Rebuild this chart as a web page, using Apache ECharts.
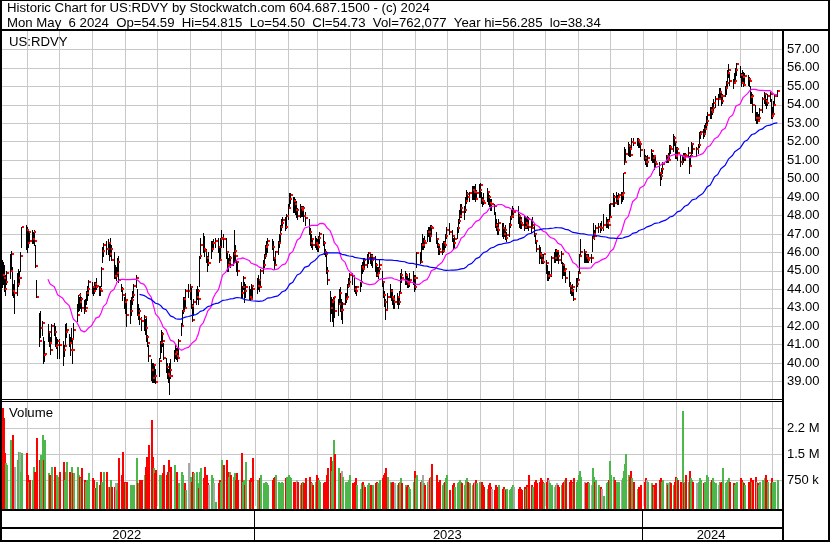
<!DOCTYPE html>
<html><head><meta charset="utf-8">
<script src="https://cdn.jsdelivr.net/npm/echarts@6/dist/echarts.min.js"></script>
<style>html,body{margin:0;padding:0;background:#fff}#c{width:830px;height:543px}</style>
</head><body><div id="c"></div>
<script>
// ---------------- DATA ----------------
const months = ['2022-05','2022-06','2022-07','2022-08','2022-09','2022-10','2022-11','2022-12',
 '2023-01','2023-02','2023-03','2023-04','2023-05','2023-06','2023-07','2023-08','2023-09','2023-10','2023-11','2023-12',
 '2024-01','2024-02','2024-03','2024-04','2024-05'];
const monthDays = [
 [9,10,11,12,13,16,17,18,19,20,23,24,25,26,27,31],
 [1,2,3,6,7,8,9,10,13,14,15,16,17,21,22,23,24,27,28,29,30],
 [1,5,6,7,8,11,12,13,14,15,18,19,20,21,22,25,26,27,28,29],
 [1,2,3,4,5,8,9,10,11,12,15,16,17,18,19,22,23,24,25,26,29,30,31],
 [1,2,6,7,8,9,12,13,14,15,16,19,20,21,22,23,26,27,28,29,30],
 [3,4,5,6,7,10,11,12,13,14,17,18,19,20,21,24,25,26,27,28,31],
 [1,2,3,4,7,8,9,10,11,14,15,16,17,18,21,22,23,25,28,29,30],
 [1,2,5,6,7,8,9,12,13,14,15,16,19,20,21,22,23,27,28,29,30],
 [3,4,5,6,9,10,11,12,13,17,18,19,20,23,24,25,26,27,30,31],
 [1,2,3,6,7,8,9,10,13,14,15,16,17,21,22,23,24,27,28],
 [1,2,3,6,7,8,9,10,13,14,15,16,17,20,21,22,23,24,27,28,29,30,31],
 [3,4,5,6,10,11,12,13,14,17,18,19,20,21,24,25,26,27,28],
 [1,2,3,4,5,8,9,10,11,12,15,16,17,18,19,22,23,24,25,26,30,31],
 [1,2,5,6,7,8,9,12,13,14,15,16,20,21,22,23,26,27,28,29,30],
 [3,5,6,7,10,11,12,13,14,17,18,19,20,21,24,25,26,27,28,31],
 [1,2,3,4,7,8,9,10,11,14,15,16,17,18,21,22,23,24,25,28,29,30,31],
 [1,5,6,7,8,11,12,13,14,15,18,19,20,21,22,25,26,27,28,29],
 [2,3,4,5,6,9,10,11,12,13,16,17,18,19,20,23,24,25,26,27,30,31],
 [1,2,3,6,7,8,9,10,13,14,15,16,17,20,21,22,24,27,28,29,30],
 [1,4,5,6,7,8,11,12,13,14,15,18,19,20,21,22,26,27,28,29],
 [2,3,4,5,8,9,10,11,12,16,17,18,19,22,23,24,25,26,29,30,31],
 [1,2,5,6,7,8,9,12,13,14,15,16,20,21,22,23,26,27,28,29],
 [1,4,5,6,7,8,11,12,13,14,15,18,19,20,21,22,25,26,27,28],
 [1,2,3,4,5,8,9,10,11,12,15,16,17,18,19,22,23,24,25,26,29,30],
 [1,2,3,6]
];
const high = [
 45.6,45.5,45.3,44.8,45.0,45.9,46.1,45.2,44.3,44.5,44.9,45.1,45.0,46.0,47.4,47.5,
 47.4,47.2,47.1,47.2,47.1,47.2,46.4,44.5,42.7,42.8,42.3,41.4,41.2,42.1,41.7,41.4,42.1,42.2,42.0,41.4,41.3,
 41.3,41.2,41.0,42.1,42.2,41.6,41.4,41.9,41.3,42.2,43.2,43.7,43.6,43.8,43.6,43.4,43.5,43.9,44.2,44.5,
 44.4,44.2,44.4,44.4,44.6,44.2,44.2,45.2,46.3,46.5,46.6,46.7,46.5,46.8,46.4,46.0,45.3,45.2,45.7,45.8,44.3,44.1,43.6,
 43.8,43.5,43.4,43.6,43.9,44.3,44.8,44.0,43.2,43.0,42.5,42.6,42.4,42.5,41.5,41.0,40.2,40.0,40.0,39.9,39.7,
 40.3,41.2,41.8,41.7,41.1,40.3,40.0,39.7,40.0,40.2,40.7,41.0,40.8,40.8,41.3,42.2,42.9,43.6,43.6,44.0,44.3,
 44.3,44.2,43.2,43.5,44.0,44.2,44.0,45.8,46.8,47.05,46.9,46.2,45.8,46.0,46.6,46.6,46.7,46.8,46.8,46.3,46.8,
 47.2,47.0,46.8,46.0,45.7,45.9,45.8,46.0,47.2,46.4,45.6,45.5,44.4,44.2,44.7,44.4,44.3,44.2,44.0,44.3,44.2,
 44.6,44.8,44.5,45.1,45.6,45.9,46.4,46.6,46.8,46.7,46.6,45.7,46.1,46.6,47.0,47.5,47.8,47.9,47.9,48.1,
 48.6,49.24,49.2,49.0,49.0,48.9,48.8,48.4,48.6,48.5,48.5,48.5,48.2,47.8,47.3,47.0,46.8,46.9,46.8,
 46.7,46.9,47.1,47.0,46.6,46.2,46.0,45.2,43.9,43.6,43.5,43.6,43.6,43.5,44.0,44.1,43.5,43.3,43.8,43.8,44.3,44.6,44.9,
 44.9,44.8,44.2,44.2,44.4,45.3,45.5,45.7,45.7,45.9,46.0,46.0,45.9,45.9,45.8,45.4,45.2,45.2,45.6,
 45.0,44.4,43.9,43.5,43.8,44.3,44.0,44.0,43.6,43.7,43.8,43.6,43.9,44.9,45.1,45.0,44.9,44.7,44.6,44.9,45.0,44.8,
 44.8,46.0,46.0,46.5,47.0,46.8,46.9,47.2,47.4,47.4,47.5,47.5,47.1,46.8,46.5,46.4,46.5,46.6,46.6,47.0,47.4,
 47.6,47.2,46.8,46.9,47.4,47.8,48.3,48.6,48.6,48.5,49.0,49.4,49.3,49.3,49.6,49.6,49.6,49.7,49.4,49.7,
 49.76,49.3,49.0,49.2,49.5,49.3,49.1,48.9,48.9,48.6,48.2,47.8,47.6,47.8,47.6,47.6,47.4,47.5,47.1,47.6,48.0,48.3,48.5,
 48.4,48.5,48.1,47.9,47.9,48.0,48.0,47.9,48.0,47.9,47.8,47.9,47.5,47.0,46.6,46.4,46.3,46.0,45.9,45.9,
 45.6,45.3,45.0,45.0,45.8,46.0,46.2,46.2,46.1,46.1,46.1,45.5,45.4,45.3,45.0,45.0,44.4,44.2,44.3,44.0,44.6,44.6,
 45.0,45.9,46.7,46.2,46.0,45.9,45.9,45.9,45.9,46.9,47.6,47.2,47.5,47.6,47.6,47.7,48.1,47.9,47.8,47.8,48.6,
 48.7,49.2,49.1,49.3,49.1,49.2,49.3,49.3,50.3,51.7,51.6,52.0,51.9,51.8,52.2,52.2,52.2,52.2,52.1,51.9,
 51.6,51.3,51.2,51.3,51.6,51.4,51.3,51.2,51.2,50.9,50.3,50.6,50.9,51.3,51.3,51.4,51.8,51.8,52.4,52.3,52.0,
 51.7,51.7,51.3,51.3,51.4,51.4,51.4,51.7,51.2,51.3,52.0,51.9,51.7,51.9,52.5,52.6,52.7,52.9,53.0,53.4,
 53.6,53.9,53.9,54.1,54.3,54.5,54.6,54.9,54.9,54.7,54.6,55.0,55.3,55.9,56.2,55.8,55.4,55.7,56.0,56.285,
 56.1,55.7,55.9,55.8,55.7,55.6,55.5,55.0,54.7,54.6,54.0,53.6,53.6,53.5,53.8,54.4,54.7,54.6,54.3,54.6,54.7,54.3,
 53.9,54.2,54.6,54.815
];
const low = [
 44.1,44.3,43.9,43.7,44.3,44.6,45.0,43.7,43.6,42.7,43.7,44.2,44.3,45.0,46.3,46.2,
 46.0,46.3,46.5,46.5,46.5,46.4,45.2,43.6,40.9,41.4,41.5,40.0,40.1,41.2,40.9,40.5,41.1,41.5,40.9,40.8,40.3,
 40.3,39.9,40.4,40.9,41.4,40.9,40.45,41.1,40.0,41.3,42.3,42.8,42.9,43.0,42.8,42.7,42.9,43.2,43.4,43.7,
 43.8,43.7,43.8,43.97,44.0,43.7,43.7,44.2,45.5,45.8,45.9,45.9,45.6,45.8,45.6,44.6,44.6,44.5,44.8,44.4,43.9,43.4,43.0,
 42.7,42.0,42.2,42.6,43.2,43.6,44.1,42.6,42.4,42.1,41.8,41.8,41.6,41.2,40.9,40.1,39.1,39.0,39.0,39.0,38.9,
 39.3,40.3,40.6,40.9,40.2,39.5,39.2,39.0,38.34,39.2,40.1,40.3,40.2,40.1,40.3,41.5,42.0,42.7,42.8,43.0,43.6,
 43.5,43.0,42.3,42.6,43.2,43.5,43.2,44.2,45.7,46.0,45.8,45.5,45.0,45.3,45.7,46.1,46.2,46.3,46.0,45.5,45.6,
 46.3,46.3,45.7,45.0,45.0,45.3,45.2,45.3,45.5,45.5,45.0,44.8,43.6,43.6,44.0,43.3,43.6,43.5,43.4,43.6,43.6,
 43.8,44.0,43.9,44.2,44.9,45.2,45.7,45.8,46.0,46.2,45.6,45.1,45.3,45.9,46.3,46.6,47.2,47.4,47.2,47.3,
 47.8,48.4,48.7,48.2,48.2,48.1,47.9,47.8,47.9,48.0,48.0,47.7,47.5,47.0,46.4,46.3,46.2,46.3,46.2,
 46.1,46.1,46.5,46.4,45.9,45.8,44.9,44.3,42.3,42.7,42.3,42.0,42.5,42.6,43.3,42.8,42.4,42.2,43.2,43.3,43.7,44.1,44.2,
 44.3,43.9,43.8,43.7,43.9,44.2,44.9,45.0,45.1,45.2,45.4,45.4,45.3,45.2,45.0,44.7,44.7,44.6,45.0,
 44.2,43.6,43.1,42.4,43.0,43.6,43.4,43.2,43.0,43.0,43.2,43.0,43.2,43.9,44.4,44.3,44.3,44.1,44.1,44.2,44.3,43.9,
 44.0,45.2,45.4,45.6,46.2,46.2,46.3,46.6,46.9,46.6,46.6,47.0,46.5,46.3,45.9,45.9,45.9,46.0,46.1,46.3,46.8,
 47.0,46.6,46.2,46.3,46.8,47.1,47.6,47.9,47.9,47.8,48.2,48.7,48.8,48.8,48.9,48.9,48.9,48.8,48.9,49.0,
 49.0,48.7,48.5,48.6,48.8,48.6,48.5,48.3,48.3,48.1,47.4,47.2,47.0,47.0,46.9,46.8,46.9,46.7,46.6,46.9,47.4,47.8,47.9,
 47.9,47.6,47.4,47.3,47.3,47.2,47.3,47.3,47.3,47.2,47.1,47.3,46.9,46.5,46.1,45.4,45.7,45.4,45.4,45.4,
 44.9,44.5,44.5,44.6,44.7,45.5,45.5,45.6,45.6,45.4,45.4,44.6,44.8,44.8,44.4,44.2,43.8,43.7,43.7,43.4,43.9,44.2,
 44.5,45.0,45.8,45.5,45.5,45.5,45.5,45.5,45.5,46.1,46.8,46.7,46.9,47.1,47.1,47.2,47.2,47.4,47.4,47.3,47.8,
 47.9,48.5,48.5,48.7,48.6,48.6,48.7,48.8,48.9,50.8,51.0,51.3,51.2,51.2,51.6,51.8,51.8,51.7,51.7,51.2,
 51.0,50.8,50.7,50.7,51.0,50.9,50.9,50.5,50.7,50.2,49.66,50.0,50.3,50.9,50.9,50.9,51.1,51.4,51.5,51.8,51.1,
 51.1,51.0,50.7,50.8,50.9,51.0,51.0,51.2,50.3,50.7,51.3,51.4,51.2,51.4,51.7,52.2,52.2,52.3,52.4,52.7,
 53.0,53.3,53.3,53.5,53.7,53.9,54.0,54.3,54.3,54.0,54.1,54.5,54.6,55.0,55.5,55.1,54.9,55.2,55.4,55.6,
 55.5,55.0,55.2,55.0,55.2,55.1,55.0,54.1,54.1,53.6,53.2,53.0,53.0,53.1,53.1,53.6,54.1,54.0,53.8,54.0,54.2,53.3,
 53.3,53.6,54.1,54.50
];
const close = [
 44.8,44.6,44.0,44.4,44.9,45.0,45.9,43.9,43.8,43.8,44.3,44.6,44.6,45.8,47.35,47.2,
 46.5,47.1,46.6,46.7,47.1,46.6,45.24,43.6,41.2,41.9,42.2,40.45,40.5,41.7,41.1,40.7,42.0,41.7,40.9,41.0,41.2,
 41.0,40.7,40.9,41.7,41.8,41.1,40.7,41.3,40.7,41.8,42.6,43.7,43.3,43.5,43.0,42.8,43.0,43.8,44.0,44.4,
 44.1,43.9,44.3,44.1,44.2,44.0,43.9,45.1,46.05,46.4,46.2,46.5,45.9,46.2,45.6,44.7,44.7,44.9,45.5,44.5,44.0,43.7,43.3,
 43.4,42.6,42.8,43.4,43.7,44.2,44.6,42.6,42.8,42.4,42.3,42.5,41.9,41.4,41.1,40.4,39.6,39.2,39.9,39.3,38.95,
 40.1,41.1,41.6,41.2,40.3,39.8,39.4,39.3,39.6,39.3,40.5,40.6,40.4,40.3,41.2,42.0,42.8,43.5,43.0,43.9,43.9,
 44.1,43.1,42.35,43.3,43.6,43.9,43.5,45.8,46.4,46.2,46.1,45.7,45.4,45.4,46.2,46.5,46.5,46.6,46.3,45.6,46.7,
 46.8,46.7,46.0,45.3,45.5,45.7,45.3,45.9,46.1,45.8,45.5,45.0,43.8,44.1,44.6,43.9,44.1,43.6,43.5,44.2,44.0,
 44.2,44.5,44.1,45.0,45.3,45.8,46.3,46.4,46.6,46.3,45.7,45.3,46.0,46.5,47.0,47.35,47.6,47.76,47.4,48.0,
 48.4,48.9,49.1,48.8,48.6,48.3,48.3,48.0,48.4,48.3,48.4,48.0,47.85,47.1,46.5,46.7,46.4,46.5,46.4,
 46.3,46.8,47.0,46.5,46.0,45.9,45.0,44.5,43.0,43.3,43.4,43.6,42.8,43.2,43.8,42.9,42.9,43.2,43.5,43.6,44.2,44.4,44.8,
 44.7,44.0,43.9,44.1,44.37,45.2,45.1,45.6,45.3,45.7,45.95,45.8,45.6,45.7,45.3,44.8,44.9,45.1,45.3,
 44.4,43.7,43.3,42.9,43.6,43.9,43.6,43.5,43.3,43.3,43.6,43.3,43.8,44.8,44.6,44.8,44.4,44.3,44.4,44.5,44.6,44.1,
 44.6,45.95,45.5,46.4,46.4,46.6,46.5,47.1,47.1,46.9,47.35,47.3,46.7,46.4,46.2,46.0,46.1,46.5,46.4,46.9,47.2,
 47.1,46.9,46.5,46.7,47.3,47.7,48.0,48.4,48.2,48.3,48.8,49.15,49.0,49.2,49.4,49.3,49.3,48.9,49.2,49.4,
 49.66,48.85,48.8,48.7,49.3,49.0,48.7,48.6,48.6,48.5,47.5,47.3,47.2,47.6,47.3,47.0,47.2,46.8,46.95,47.5,47.9,48.0,48.2,
 48.2,48.0,47.76,47.6,47.5,47.4,47.6,47.5,47.8,47.4,47.3,47.5,47.0,46.6,46.2,45.9,45.8,45.6,45.5,45.9,
 45.4,44.7,44.7,44.8,45.7,45.7,46.1,46.1,45.8,45.6,45.9,45.3,45.0,45.1,44.6,44.2,43.97,43.9,44.1,43.5,44.3,44.5,
 44.9,45.8,46.0,46.0,45.8,45.7,45.6,45.7,45.7,46.8,47.0,46.9,47.3,47.4,47.3,47.3,47.5,47.6,47.7,47.5,47.9,
 48.6,49.0,48.7,48.9,49.0,49.1,49.1,49.2,50.3,50.9,51.34,51.74,51.6,51.3,52.0,51.95,52.1,52.0,51.9,51.55,
 51.1,50.9,50.9,51.1,51.5,51.1,51.2,50.9,50.8,50.3,50.15,50.5,50.8,51.2,51.0,51.0,51.7,51.6,52.2,52.0,51.2,
 51.6,51.4,50.9,51.2,51.1,51.3,51.2,51.4,50.7,51.2,51.9,51.6,51.6,51.8,52.4,52.5,52.4,52.7,52.9,53.1,
 53.46,53.7,53.6,53.8,54.1,54.3,54.3,54.7,54.5,54.2,54.5,54.9,55.2,55.7,55.9,55.3,55.2,55.3,55.9,56.2,
 55.6,55.2,55.5,55.1,55.57,55.4,55.3,54.4,54.5,54.0,53.3,53.3,53.1,53.3,53.7,54.3,54.6,54.2,54.1,54.5,54.6,53.4,
 53.5,54.0,54.5,54.73
];
const volumeThousands = [
 2820,2530,1520,1230,1180,1900,1520,2050,990,1135,1330,1570,1570,990,1520,1520,
 890,700,750,750,1135,990,800,1950,1330,1470,2050,1330,1900,940,890,800,1135,1135,890,890,850,
 990,1280,750,990,1280,990,990,1135,940,940,1135,890,850,800,1090,750,700,750,700,940,
 800,750,510,510,700,610,990,700,610,990,990,560,560,750,560,560,650,460,650,1375,890,1570,700,
 650,700,620,610,460,610,1375,650,650,750,750,890,1135,1420,1420,1760,2480,1420,1090,940,1040,
 890,800,890,940,1180,890,990,1330,990,1135,1180,990,990,510,650,990,890,650,650,460,1230,
 850,700,990,940,990,650,510,990,1090,800,1135,890,650,610,890,800,650,125,650,750,700,
 1330,1180,1330,990,850,990,890,850,940,750,940,750,1520,700,750,610,1280,750,800,700,1375,
 750,700,800,900,650,600,700,650,600,750,800,850,900,700,650,600,700,650,800,850,
 900,850,800,700,650,700,750,700,600,650,700,650,800,850,700,650,600,700,900,
 800,750,700,650,700,650,900,1100,1400,1000,1300,1900,1500,1100,900,950,1000,850,700,650,700,750,900,
 650,700,800,600,500,650,700,600,550,600,650,600,550,600,650,700,650,600,750,
 800,900,950,1100,850,700,650,700,600,650,600,650,700,800,650,600,550,600,550,500,700,1000,
 800,900,700,750,900,650,600,700,750,800,850,1200,900,700,650,750,600,650,700,800,900,
 450,600,650,550,650,700,750,700,650,600,750,800,700,650,600,650,700,750,650,700,
 650,700,600,550,500,600,650,550,500,450,600,550,500,600,500,550,500,450,500,450,500,550,600,
 550,500,550,500,450,550,500,600,550,900,600,550,700,750,650,700,800,750,700,650,
 700,800,750,650,600,550,600,650,600,550,600,650,700,750,800,700,750,700,650,800,700,750,
 900,1000,850,700,650,600,700,650,600,1100,850,700,750,600,550,500,300,650,700,750,1300,
 900,850,750,700,650,700,750,800,1000,1200,1500,900,850,1000,800,700,500,550,500,600,
 700,800,750,700,650,600,550,600,650,750,800,700,750,650,600,650,700,650,600,700,850,
 800,750,700,2750,650,700,900,700,1000,800,750,700,650,700,800,750,650,700,650,900,
 850,700,750,800,700,650,600,700,650,700,1100,650,700,750,800,700,650,600,650,700,
 800,750,700,650,600,700,650,800,700,750,850,700,650,600,700,750,800,900,750,700,650,800,
 700,650,680,762.077
];
const priceRange = [38, 58];
const volTicks = [750000, 1500000, 2250000];
const volTickLabels = ['750 k', '1.5 M', '2.2 M'];
const years = ['2022', '2023', '2024'];
const maPeriods = [30, 90];
const headerLine1 = 'Historic Chart for US:RDVY by Stockwatch.com 604.687.1500 - (c) 2024';
const headerLine2 = 'Mon May  6 2024  Op=54.59  Hi=54.815  Lo=54.50  Cl=54.73  Vol=762,077  Year hi=56.285  lo=38.34';
const symbolLabel = 'US:RDVY';

// ---------------- BUILD ----------------
const DAY = 86400000;
const dates = [];
months.forEach((m, i) => {
  const [y, mo] = m.split('-').map(Number);
  monthDays[i].forEach(d => dates.push(Date.UTC(y, mo - 1, d)));
});
const monthStarts = months.slice(1).map(m => { const [y, mo] = m.split('-').map(Number); return Date.UTC(y, mo - 1, 1); });
const yearStarts = years.slice(1).map(y => Date.UTC(+y, 0, 1));
const T0 = Date.UTC(2022, 4, 8);
const PXD = 1.0649, OFF = 1.06;
const xMin = T0 + (2 - OFF) / PXD * DAY;
const xMax = T0 + (782 - OFF) / PXD * DAY;

const ohlc = dates.map((t, i) => [t, high[i], low[i], close[i]]);
const volData = dates.map((t, i) => [t, volumeThousands[i] * 1000]);
const volColors = close.map((c, i) => i === 0 ? '#ff0000' : (c > close[i-1] ? '#4cb84c' : (c < close[i-1] ? '#ff0000' : '#a8a8a8')));
function sma(n) {
  const out = []; let s = 0;
  for (let i = 0; i < close.length; i++) {
    s += close[i]; if (i >= n) s -= close[i - n];
    if (i >= n - 1) out.push([dates[i], +(s / n).toFixed(3)]);
  }
  return out;
}
const yearSegs = [];
const bounds = [xMin].concat(yearStarts, [xMax]);
for (let i = 0; i < years.length; i++) yearSegs.push([bounds[i], bounds[i+1], i]);

const FONT = "'Liberation Sans', Arial, sans-serif";
const GRID = '#c8c8c8';

function monthLineRender(params, api) {
  const x = Math.round(api.coord([api.value(0), 0])[0]) + 0.5;
  const cs = params.coordSys;
  return { type: 'line', shape: { x1: x, y1: cs.y, x2: x, y2: cs.y + cs.height },
    style: { stroke: GRID, lineWidth: 1 }, silent: true };
}

const chart = echarts.init(document.getElementById('c'), null, { renderer: 'canvas' });
chart.setOption({
  animation: false,
  backgroundColor: '#fff',
  grid: [
    { left: 2, top: 31, width: 780, height: 369 },
    { left: 2, top: 402, width: 780, height: 104 },
    { left: 2, top: 511, width: 780, height: 29 }
  ],
  xAxis: [0, 1, 2].map(g => ({ type: 'time', gridIndex: g, min: xMin, max: xMax, show: false })),
  yAxis: [
    { type: 'value', gridIndex: 0, position: 'right', min: priceRange[0], max: priceRange[1], interval: 1,
      axisLine: { show: false }, axisTick: { show: false },
      axisLabel: { margin: 5, color: '#000', fontSize: 13, fontFamily: FONT, showMinLabel: false, showMaxLabel: false,
        formatter: v => v.toFixed(2) },
      splitLine: { show: true, showMinLine: false, showMaxLine: false, lineStyle: { color: GRID, width: 1 } } },
    { type: 'value', gridIndex: 1, position: 'right', min: 0, max: 3000000, interval: 750000,
      axisLine: { show: false }, axisTick: { show: false },
      axisLabel: { margin: 5, color: '#000', fontSize: 13, fontFamily: FONT,
        formatter: v => { const k = volTicks.indexOf(v); return k >= 0 ? volTickLabels[k] : ''; } },
      splitLine: { show: true, showMinLine: false, showMaxLine: false, lineStyle: { color: GRID, width: 1 } } },
    { type: 'value', gridIndex: 2, min: 0, max: 1, show: false }
  ],
  series: [
    { type: 'custom', name: 'monthsP', xAxisIndex: 0, yAxisIndex: 0, data: monthStarts.map(t => [t]), z: 1,
      renderItem: monthLineRender, clip: false, silent: true },
    { type: 'custom', name: 'monthsV', xAxisIndex: 1, yAxisIndex: 1, data: monthStarts.map(t => [t]), z: 1,
      renderItem: monthLineRender, clip: false, silent: true },
    { type: 'custom', name: 'bars', xAxisIndex: 0, yAxisIndex: 0, data: ohlc, z: 2, clip: true,
      encode: { x: 0, y: [1, 2, 3] },
      renderItem: (params, api) => {
        const t = api.value(0);
        const pH = api.coord([t, api.value(1)]), pL = api.coord([t, api.value(2)]);
        const x = Math.round(pH[0]);
        const y1 = Math.round(pH[1]), y2 = Math.round(pL[1]);
        return { type: 'rect', shape: { x: x, y: y1, width: 1, height: Math.max(1, y2 - y1 + 1) }, style: { fill: '#000' } };
      } },
    { type: 'custom', name: 'closeTicks', xAxisIndex: 0, yAxisIndex: 0, data: ohlc, z: 3, clip: true,
      encode: { x: 0, y: 3 },
      renderItem: (params, api) => {
        const p = api.coord([api.value(0), api.value(3)]);
        const x = Math.round(p[0]);
        return { type: 'rect', shape: { x: x + 1, y: Math.round(p[1]) - 1, width: 2, height: 2 }, style: { fill: '#ff0000' } };
      } },
    { type: 'line', name: 'MA' + maPeriods[0], xAxisIndex: 0, yAxisIndex: 0, data: sma(maPeriods[0]), z: 4,
      showSymbol: false, symbol: 'none', lineStyle: { color: '#ff00ff', width: 1.2 }, silent: true },
    { type: 'line', name: 'MA' + maPeriods[1], xAxisIndex: 0, yAxisIndex: 0, data: sma(maPeriods[1]), z: 4,
      showSymbol: false, symbol: 'none', lineStyle: { color: '#0000ff', width: 1.2 }, silent: true },
    { type: 'custom', name: 'volume', xAxisIndex: 1, yAxisIndex: 1, data: volData, z: 2, clip: false,
      encode: { x: 0, y: 1 },
      renderItem: (params, api) => {
        const p = api.coord([api.value(0), api.value(1)]);
        const cs = params.coordSys;
        const base = cs.y + cs.height + 3;
        const x = Math.round(p[0]); const y = Math.round(p[1]);
        return { type: 'rect', shape: { x: x, y: y, width: 2, height: Math.max(1, base - y) },
          style: { fill: volColors[params.dataIndex] } };
      } },
    { type: 'custom', name: 'years', xAxisIndex: 2, yAxisIndex: 2, data: yearSegs, z: 5, clip: false, silent: true,
      renderItem: (params, api) => {
        const a = api.coord([api.value(0), 0])[0], b = api.coord([api.value(1), 0])[0];
        const cs = params.coordSys;
        const children = [{ type: 'text', style: { text: years[api.value(2)], x: (a + b) / 2 - 1.5, y: 535,
          align: 'center', verticalAlign: 'middle', font: '13px ' + FONT, fill: '#000' } }];
        if (params.dataIndex > 0) {
          const x = Math.round(a) - 0.5;
          children.push({ type: 'line', shape: { x1: x, y1: cs.y, x2: x, y2: cs.y + cs.height },
            style: { stroke: '#000', lineWidth: 1 } });
        }
        return { type: 'group', children: children };
      } }
  ],
  graphic: [
    { type: 'rect', shape: { x: 0, y: 0, width: 830, height: 1 }, style: { fill: '#000' }, z: 100 },
    { type: 'rect', shape: { x: 0, y: 0, width: 2, height: 542 }, style: { fill: '#000' }, z: 100 },
    { type: 'rect', shape: { x: 828, y: 0, width: 2, height: 542 }, style: { fill: '#000' }, z: 100 },
    { type: 'rect', shape: { x: 0, y: 29, width: 830, height: 2 }, style: { fill: '#000' }, z: 100 },
    { type: 'rect', shape: { x: 782, y: 29, width: 2, height: 513 }, style: { fill: '#000' }, z: 100 },
    { type: 'rect', shape: { x: 0, y: 399, width: 782, height: 1 }, style: { fill: '#000' }, z: 100 },
    { type: 'rect', shape: { x: 0, y: 401, width: 782, height: 1 }, style: { fill: '#000' }, z: 100 },
    { type: 'rect', shape: { x: 0, y: 509, width: 782, height: 2 }, style: { fill: '#000' }, z: 100 },
    { type: 'rect', shape: { x: 0, y: 527, width: 782, height: 2 }, style: { fill: '#000' }, z: 100 },
    { type: 'rect', shape: { x: 0, y: 540, width: 830, height: 2 }, style: { fill: '#000' }, z: 100 },
    { type: 'text', style: { text: headerLine1, x: 7, y: 8, verticalAlign: 'middle', font: '13.2px ' + FONT, fill: '#000' }, z: 100 },
    { type: 'text', style: { text: headerLine2, x: 7, y: 23, verticalAlign: 'middle', font: '13.2px ' + FONT, fill: '#000' }, z: 100 },
    { type: 'text', style: { text: symbolLabel, x: 9, y: 42, verticalAlign: 'middle', font: '13.2px ' + FONT, fill: '#000' }, z: 100 },
    { type: 'text', style: { text: 'Volume', x: 9, y: 413, verticalAlign: 'middle', font: '13.2px ' + FONT, fill: '#000' }, z: 100 }
  ]
});
</script></body></html>
